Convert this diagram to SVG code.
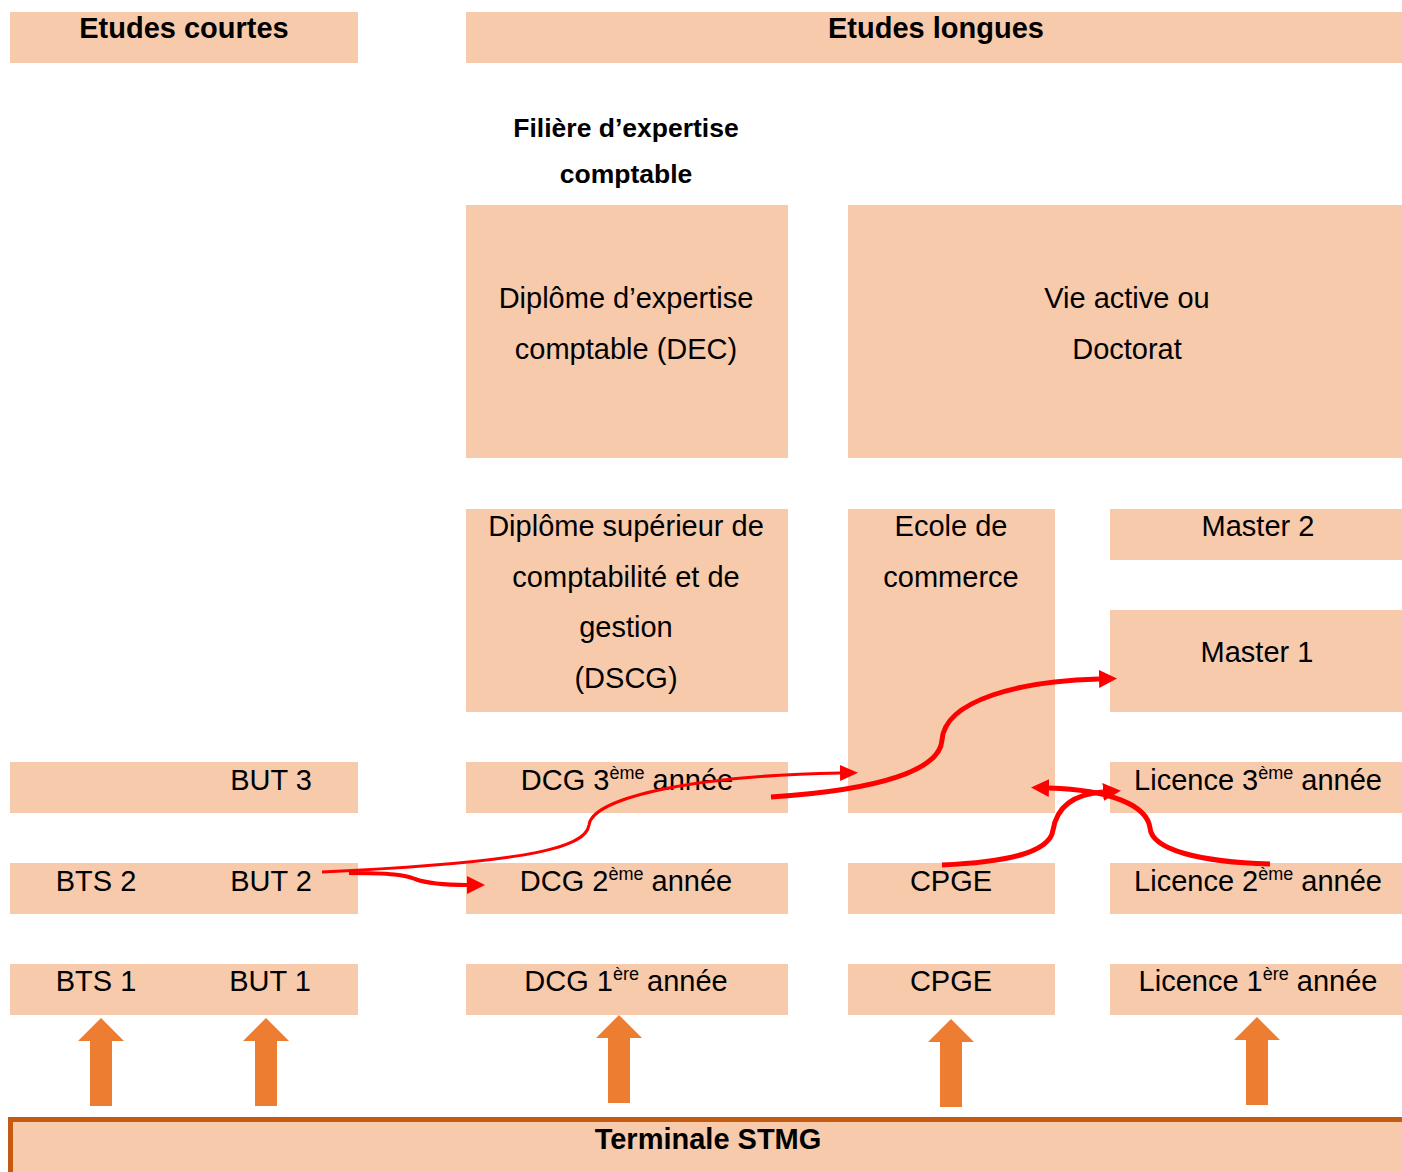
<svg xmlns="http://www.w3.org/2000/svg" width="1402" height="1172" viewBox="0 0 1402 1172">
<style>
.box{fill:#F7CAAC}
.t{font-family:"Liberation Sans",Arial,sans-serif;font-size:29px;fill:#000;text-anchor:middle}
.b{font-family:"Liberation Sans",Arial,sans-serif;font-size:29px;font-weight:bold;fill:#000;text-anchor:middle}
.fb{font-size:26.5px}
.sup{font-size:18px}
.up{fill:#ED7D31}
.con{fill:none;stroke:#FF0000;stroke-linecap:butt}
</style>
<defs>
<marker id="ah" markerUnits="userSpaceOnUse" markerWidth="18" markerHeight="16" refX="0" refY="8" orient="auto">
<path d="M0,0 L18,8 L0,16 z" fill="#FF0000"/>
</marker>
<marker id="ah2" markerUnits="userSpaceOnUse" markerWidth="18" markerHeight="18" refX="0" refY="9" orient="auto">
<path d="M0,0 L18,9 L0,18 z" fill="#FF0000"/>
</marker>
<path id="blk" d="M-11,0 L-11,-65 L-23,-65 L0,-88 L23,-65 L11,-65 L11,0 z"/>
</defs>
<rect width="1402" height="1172" fill="#fff"/>

<g id="hdr-courtes"><rect class="box" x="10" y="12" width="348" height="51"/><text class="b" x="184" y="38">Etudes courtes</text></g>
<g id="hdr-longues"><rect class="box" x="466" y="12" width="936" height="51"/><text class="b" x="936" y="38">Etudes longues</text></g>
<g id="filiere"><text class="b fb" x="626" y="137">Filière d’expertise</text><text class="b fb" x="626" y="183">comptable</text></g>

<g id="dec"><rect class="box" x="466" y="205" width="322" height="253"/><text class="t" x="626" y="308">Diplôme d’expertise</text><text class="t" x="626" y="359">comptable (DEC)</text></g>
<g id="vie"><rect class="box" x="848" y="205" width="554" height="253"/><text class="t" x="1127" y="308">Vie active ou</text><text class="t" x="1127" y="359">Doctorat</text></g>

<g id="dscg"><rect class="box" x="466" y="509" width="322" height="203"/><text class="t" x="626" y="536">Diplôme supérieur de</text><text class="t" x="626" y="587">comptabilité et de</text><text class="t" x="626" y="637">gestion</text><text class="t" x="626" y="688">(DSCG)</text></g>
<g id="ecole"><rect class="box" x="848" y="509" width="207" height="304"/><text class="t" x="951" y="536">Ecole de</text><text class="t" x="951" y="587">commerce</text></g>
<g id="master2"><rect class="box" x="1110" y="509" width="292" height="51"/><text class="t" x="1258" y="536">Master 2</text></g>
<g id="master1"><rect class="box" x="1110" y="610" width="292" height="102"/><text class="t" x="1257" y="662">Master 1</text></g>

<g id="but3"><rect class="box" x="10" y="762" width="348" height="51"/><text class="t" x="271" y="790">BUT 3</text></g>
<g id="dcg3"><rect class="box" x="466" y="762" width="322" height="51"/><text class="t" x="627" y="790">DCG 3<tspan class="sup" dy="-11">ème</tspan><tspan dy="11"> année</tspan></text></g>
<g id="lic3"><rect class="box" x="1110" y="762" width="292" height="51"/><text class="t" x="1258" y="790">Licence 3<tspan class="sup" dy="-11">ème</tspan><tspan dy="11"> année</tspan></text></g>

<g id="but2"><rect class="box" x="10" y="863" width="348" height="51"/><text class="t" x="96" y="891">BTS 2</text><text class="t" x="271" y="891">BUT 2</text></g>
<g id="dcg2"><rect class="box" x="466" y="863" width="322" height="51"/><text class="t" x="626" y="891">DCG 2<tspan class="sup" dy="-11">ème</tspan><tspan dy="11"> année</tspan></text></g>
<g id="cpge2"><rect class="box" x="848" y="863" width="207" height="51"/><text class="t" x="951" y="891">CPGE</text></g>
<g id="lic2"><rect class="box" x="1110" y="863" width="292" height="51"/><text class="t" x="1258" y="891">Licence 2<tspan class="sup" dy="-11">ème</tspan><tspan dy="11"> année</tspan></text></g>

<g id="but1"><rect class="box" x="10" y="964" width="348" height="51"/><text class="t" x="96" y="991">BTS 1</text><text class="t" x="270" y="991">BUT 1</text></g>
<g id="dcg1"><rect class="box" x="466" y="964" width="322" height="51"/><text class="t" x="626" y="991">DCG 1<tspan class="sup" dy="-11">ère</tspan><tspan dy="11"> année</tspan></text></g>
<g id="cpge1"><rect class="box" x="848" y="964" width="207" height="51"/><text class="t" x="951" y="991">CPGE</text></g>
<g id="lic1"><rect class="box" x="1110" y="964" width="292" height="51"/><text class="t" x="1258" y="991">Licence 1<tspan class="sup" dy="-11">ère</tspan><tspan dy="11"> année</tspan></text></g>

<g id="terminale"><rect class="box" x="10" y="1119" width="1392" height="53"/><path d="M10.5,1172 L10.5,1119.5 L1402,1119.5" fill="none" stroke="#C55A11" stroke-width="5"/><text class="b" x="708" y="1149">Terminale STMG</text></g>

<g id="up-arrows">
<use href="#blk" class="up" x="101" y="1106"/>
<use href="#blk" class="up" x="266" y="1106"/>
<use href="#blk" class="up" x="619" y="1103"/>
<use href="#blk" class="up" x="951" y="1107"/>
<use href="#blk" class="up" x="1257" y="1105"/>
</g>

<g id="connectors">
<path class="con" stroke-width="3" marker-end="url(#ah)" d="M322,872 C 540,862 586,846 589,825 C 592,800 680,776 840,773"/>
<path class="con" stroke-width="4" marker-end="url(#ah2)" d="M349,873 C 392,873 405,875 415,879 C 426,883 442,885 467,885"/>
<path class="con" stroke-width="5" marker-end="url(#ah2)" d="M771,797 C 880,790 940,770 942,740 C 945,700 1020,681 1099,679"/>
<path class="con" stroke-width="5" marker-end="url(#ah2)" d="M942,865 C 1010,862 1050,852 1053,830 C 1057,806 1075,794 1103,792"/>
<path class="con" stroke-width="5" marker-end="url(#ah2)" d="M1270,864 C 1200,862 1152,850 1150,828 C 1147,805 1110,790 1049,788"/>
</g>
</svg>
